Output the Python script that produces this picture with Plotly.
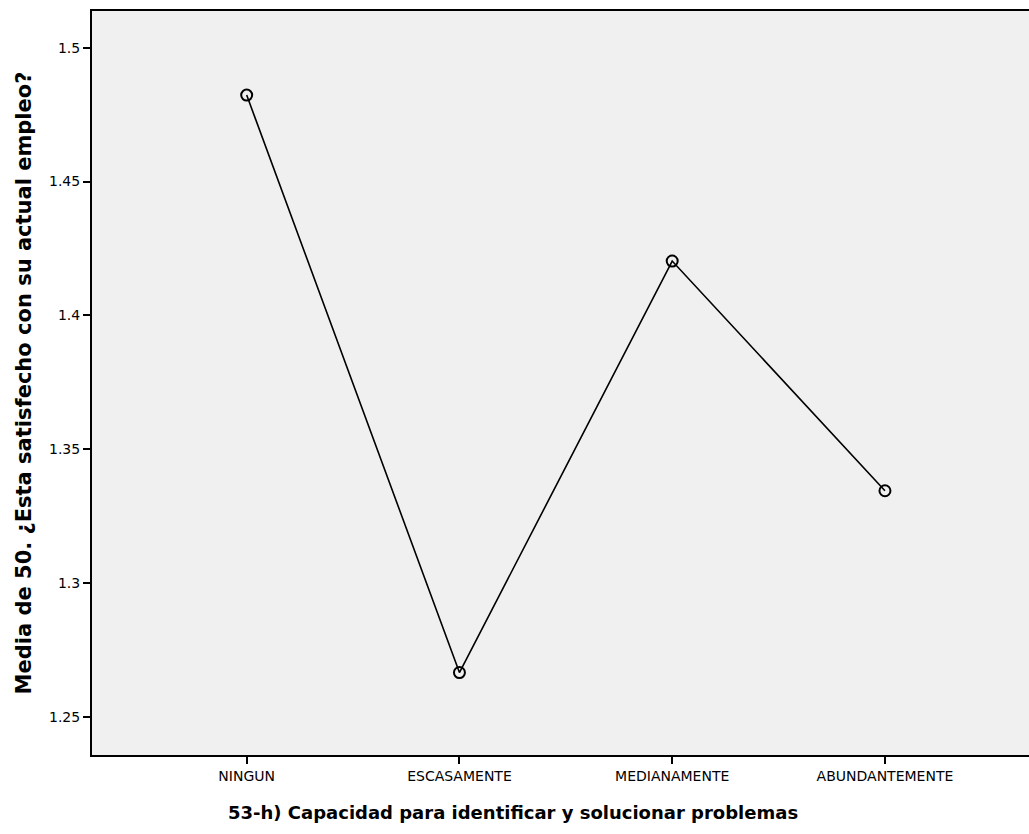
import plotly.graph_objects as go

categories = ["NINGUN", "ESCASAMENTE", "MEDIANAMENTE", "ABUNDANTEMENTE"]
means = [1.4823, 1.2666, 1.4203, 1.3345]
y_ticks = [1.25, 1.3, 1.35, 1.4, 1.45, 1.5]
y_ticktext = ["1.25", "1.3", "1.35", "1.4", "1.45", "1.5"]
x_title = "53-h) Capacidad para identificar y solucionar problemas"
y_title = "Media de 50. ¿Esta satisfecho con su actual empleo?"

fig = go.Figure()
fig.add_trace(go.Scatter(
    x=categories, y=means, mode="lines+markers",
    line=dict(color="black", width=1.6),
    marker=dict(symbol="circle-open", size=11, color="black", line=dict(width=2, color="black")),
    showlegend=False,
))

fig.update_layout(
    width=1029, height=834,
    margin=dict(l=92, r=0, t=11, b=79),
    paper_bgcolor="white",
    plot_bgcolor="#f0f0f0",
    font=dict(family="DejaVu Sans, Liberation Sans, Arial, sans-serif", color="black", size=14),
    xaxis=dict(
        type="category", range=[-0.727, 3.677],
        showline=True, linecolor="black", linewidth=2, mirror=True,
        ticks="outside", ticklen=7, tickwidth=1.5, tickcolor="black",
        showgrid=False, zeroline=False,
        tickfont=dict(size=14),
    ),
    yaxis=dict(
        range=[1.2358, 1.5137],
        tickvals=y_ticks, ticktext=y_ticktext,
        showline=True, linecolor="black", linewidth=2,
        ticks="outside", ticklen=7, tickwidth=1.5, tickcolor="black",
        showgrid=False, zeroline=False,
        tickfont=dict(size=14),
        title=dict(text="<b>" + y_title + "</b>", font=dict(size=21), standoff=12),
    ),
    annotations=[dict(
        text="<b>" + x_title + "</b>", xref="paper", yref="paper",
        x=0.449, y=0, xanchor="center", yanchor="middle", yshift=-57,
        showarrow=False, font=dict(size=18),
    )],
)

fig.write_html("out.html", config={"displayModeBar": False},
               post_script="document.body.style.margin='0';document.body.style.overflow='hidden';")
